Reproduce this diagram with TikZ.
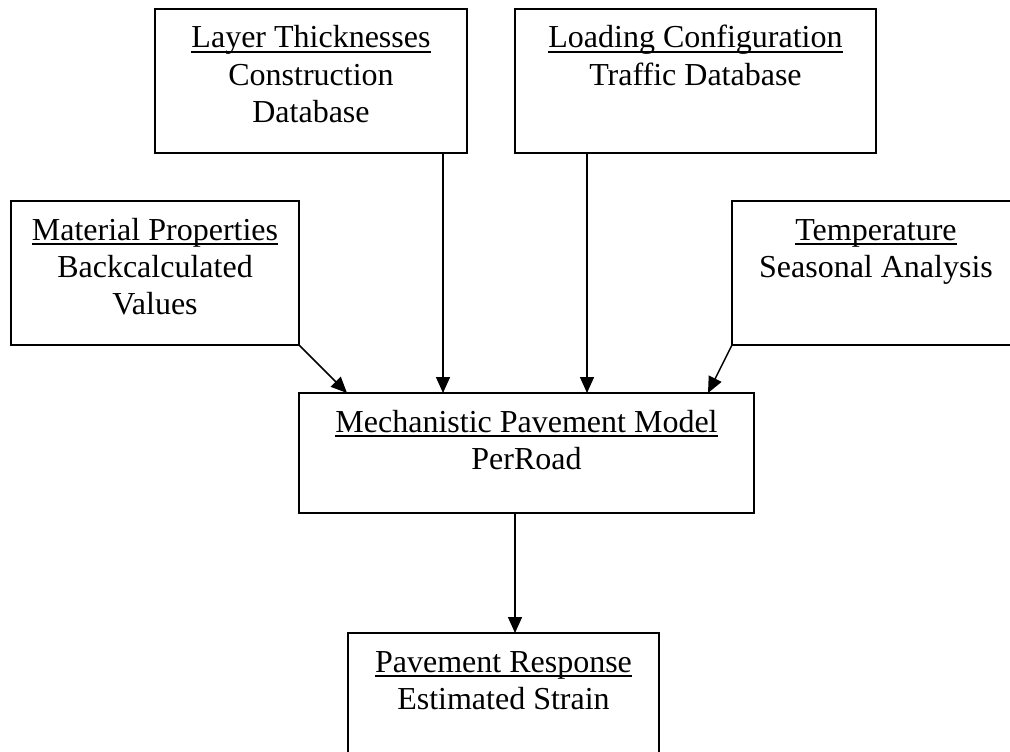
\documentclass[tikz,border=0pt]{standalone}
\usepackage{fontspec}
\setmainfont{Liberation Serif}
\usetikzlibrary{arrows.meta}
\newcommand\myul[1]{\setbox0\hbox{#1}\rlap{\rule[-5pt]{\wd0}{1.6pt}}\box0}
\tikzset{
  boxnode/.style={draw, line width=2pt, rectangle, inner sep=0pt, outer sep=0pt},
  txt/.style={anchor=base, inner sep=0pt, font=\fontsize{32pt}{37pt}\selectfont},
  arr/.style={line width=1.5pt, -{Triangle[length=16pt,width=14pt]}}
}
\begin{document}
\begin{tikzpicture}[x=1pt,y=-1pt]
\useasboundingbox (0,0) rectangle (1010,752);
\clip (0,0) rectangle (1010,752);
\fill[white] (0,0) rectangle (1010,752);
% boxes
\node[boxnode, minimum width=312pt, minimum height=144pt] (b1) at (311,81) {};
\node[boxnode, minimum width=361pt, minimum height=144pt] (b2) at (695.5,81) {};
\node[boxnode, minimum width=288pt, minimum height=144pt] (b3) at (155,273) {};
\node[boxnode, minimum width=288pt, minimum height=144pt] (b4) at (876,273) {};
\node[boxnode, minimum width=455pt, minimum height=120pt] (b5) at (526.5,453) {};
\node[boxnode, minimum width=311pt, minimum height=144pt] (b6) at (503.5,705) {};
% texts
\node[txt] (t1a) at (311,48) {\myul{Layer Thicknesses}};
\node[txt] (t1b) at (311,85) {Construction};
\node[txt] (t1c) at (311,122) {Database};
\node[txt] (t2a) at (695.5,48) {\myul{Loading Configuration}};
\node[txt] (t2b) at (695.5,85) {Traffic Database};
\node[txt] (t3a) at (155,240) {\myul{Material Properties}};
\node[txt] (t3b) at (155,277) {Backcalculated};
\node[txt] (t3c) at (155,314) {Values};
\node[txt] (t4a) at (876,240) {\myul{Temperature}};
\node[txt] (t4b) at (876,277) {Seasonal Analysis};
\node[txt] (t5a) at (526.5,432) {\myul{Mechanistic Pavement Model}};
\node[txt] (t5b) at (526.5,469) {PerRoad};
\node[txt] (t6a) at (503.5,672) {\myul{Pavement Response}};
\node[txt] (t6b) at (503.5,709) {Estimated Strain};
% arrows
\draw[arr] ([xshift=-24pt]b1.south east) -- ([xshift=-24pt]b1.south east |- b5.north);
\draw[arr] ([xshift=72pt]b2.south west) -- ([xshift=72pt]b2.south west |- b5.north);
\draw[arr] (b3.south east) -- ([xshift=48pt]b5.north west);
\draw[arr] (b4.south west) -- ([xshift=-46pt]b5.north east);
\draw[arr] ([xshift=-11.5pt]b5.south) -- ([xshift=-11.5pt]b5.south |- b6.north);
\end{tikzpicture}
\end{document}
